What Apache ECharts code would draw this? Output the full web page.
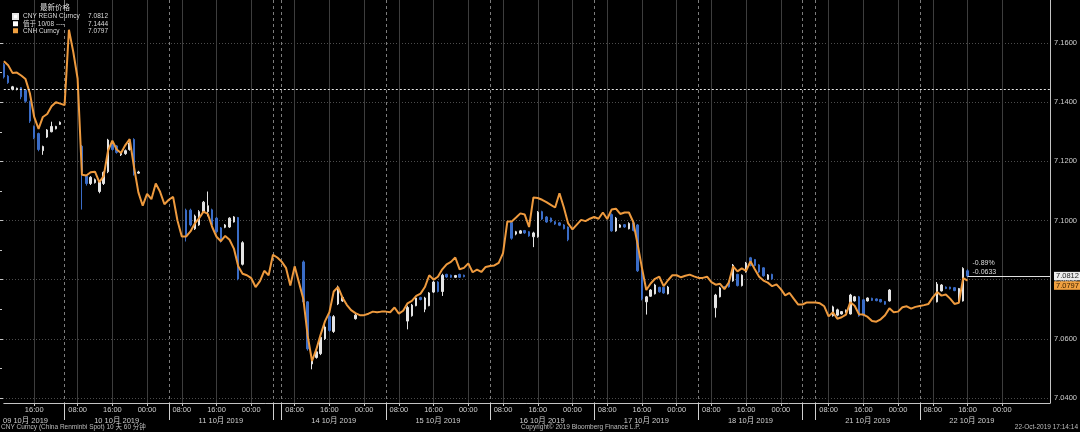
<!DOCTYPE html>
<html><head><meta charset="utf-8">
<script src="https://cdn.jsdelivr.net/npm/echarts@6/dist/echarts.min.js"></script>
<style>html,body{margin:0;padding:0;background:#000;}#c{width:1080px;height:432px;}</style>
</head><body><div id="c"></div>
<script>
// ---------------- DATA ----------------
// trading sessions shown on the x axis (hourly slots)
const sessions = [
  {day:'2019-10-09', from:9, hours:14, label:'09 10月 2019', labelAt:5},
  {day:'2019-10-10', from:5, hours:24, label:'10 10月 2019', labelAt:12},
  {day:'2019-10-11', from:5, hours:24, label:'11 10月 2019', labelAt:12},
  {day:'2019-10-12', from:5, hours:2,  label:'', labelAt:-1},
  {day:'2019-10-14', from:5, hours:24, label:'14 10月 2019', labelAt:12},
  {day:'2019-10-15', from:5, hours:24, label:'15 10月 2019', labelAt:12},
  {day:'2019-10-16', from:5, hours:24, label:'16 10月 2019', labelAt:12},
  {day:'2019-10-17', from:5, hours:24, label:'17 10月 2019', labelAt:12},
  {day:'2019-10-18', from:5, hours:24, label:'18 10月 2019', labelAt:12},
  {day:'2019-10-19', from:5, hours:3,  label:'', labelAt:-1},
  {day:'2019-10-21', from:5, hours:24, label:'21 10月 2019', labelAt:12},
  {day:'2019-10-22', from:5, hours:24, label:'22 10月 2019', labelAt:12},
  {day:'2019-10-23', from:5, hours:7,  label:'', labelAt:-1, trailing:true}
];
const hourLabels = [8, 16, 0];
const yTicks = {min:7.04, max:7.16, step:0.02};

// CNH Curncy hourly values, per session
const cnh_1009 = [7.1538,7.1525,7.1499,7.1500,7.1490,7.1478,7.1430,7.1350,7.1310,7.1350,7.1360,7.1386,7.1400,7.1395];
const cnh_1010 = [7.1390,7.1645,7.1570,7.1480,7.1155,7.1152,7.1163,7.1165,7.1130,7.1150,7.1235,7.1270,7.1240,7.1228,7.1255,7.1275,7.1180,7.1095,7.1050,7.1090,7.1072,7.1125,7.1097,7.1055];
const cnh_1011 = [7.1070,7.1080,7.1000,7.0946,7.0946,7.0963,7.0990,7.1008,7.1030,7.1022,7.0978,7.0945,7.0930,7.0948,7.0935,7.0905,7.0845,7.0820,7.0815,7.0805,7.0775,7.0795,7.0830,7.0815];
const cnh_1012 = [7.0884,7.0875];
const cnh_1014 = [7.0861,7.0840,7.0780,7.0845,7.0790,7.0735,7.0610,7.0525,7.0565,7.0615,7.0660,7.0690,7.0760,7.0775,7.0740,7.0715,7.0697,7.0687,7.0680,7.0680,7.0685,7.0692,7.0690,7.0692];
const cnh_1015 = [7.0692,7.0690,7.0706,7.0685,7.0695,7.0720,7.0728,7.0745,7.0753,7.0775,7.0815,7.0800,7.0810,7.0835,7.0852,7.0860,7.0875,7.0835,7.0840,7.0855,7.0825,7.0834,7.0826,7.0843];
const cnh_1016 = [7.0846,7.0848,7.0857,7.0890,7.0997,7.0997,7.1010,7.1024,7.1020,7.0978,7.1078,7.1076,7.1070,7.1062,7.1053,7.1044,7.1092,7.1045,7.0990,7.0970,7.0986,7.1002,7.0998,7.1006];
const cnh_1017 = [7.1012,7.1006,7.1027,7.1005,7.1037,7.1040,7.1022,7.1027,7.1027,7.0995,7.0920,7.0840,7.0765,7.0787,7.0803,7.0810,7.0778,7.0798,7.0815,7.0815,7.0808,7.0813,7.0817,7.0811];
const cnh_1018 = [7.0806,7.0806,7.0810,7.0792,7.0783,7.0786,7.0768,7.0790,7.0845,7.0828,7.0838,7.0830,7.0862,7.0835,7.0810,7.0797,7.0790,7.0778,7.0784,7.0768,7.0747,7.0755,7.0735,7.0716];
const cnh_1019 = [7.0716,7.0723,7.0723];
const cnh_1021 = [7.0723,7.0720,7.0710,7.0676,7.0690,7.0668,7.0673,7.0682,7.0724,7.0712,7.0683,7.0682,7.0674,7.0660,7.0658,7.0666,7.0680,7.0703,7.0690,7.0692,7.0707,7.0710,7.0702,7.0708];
const cnh_1022 = [7.0711,7.0714,7.0718,7.0740,7.0758,7.0746,7.0750,7.0736,7.0718,7.0722,7.0805,7.0797];
const cnh_1023 = [];

// CNY REGN Curncy hourly bars: [hour, open, close, low, high]
const cny_1009 = [[9,7.1527,7.1485,7.1480,7.1532],[10,7.1488,7.1466,7.1462,7.1492],[11,7.1444,7.1452,7.1440,7.1455],[12,7.1443,7.1447,7.1440,7.1449],[13,7.1449,7.1418,7.1410,7.1451],[14,7.1440,7.1403,7.1398,7.1442],[15,7.1402,7.1336,7.1330,7.1405],[16,7.1318,7.1280,7.1275,7.1321],[17,7.1294,7.1240,7.1234,7.1297],[18,7.1236,7.1250,7.1222,7.1253],[19,7.1282,7.1306,7.1279,7.1309],[20,7.1300,7.1318,7.1298,7.1334],[21,7.1310,7.1318,7.1308,7.1320],[22,7.1325,7.1332,7.1323,7.1335]];
const cny_1010 = [[9,7.1251,7.1165,7.1037,7.1255],[10,7.1150,7.1125,7.1118,7.1153],[11,7.1125,7.1146,7.1120,7.1150],[12,7.1128,7.1138,7.1125,7.1142],[13,7.1098,7.1130,7.1092,7.1135],[14,7.1125,7.1163,7.1120,7.1166],[15,7.1165,7.1272,7.1160,7.1276],[16,7.1262,7.1240,7.1236,7.1266],[17,7.1252,7.1230,7.1226,7.1255],[18,7.1222,7.1228,7.1218,7.1232],[19,7.1226,7.1236,7.1222,7.1240],[20,7.1240,7.1262,7.1236,7.1275],[21,7.1274,7.1158,7.1152,7.1278],[22,7.1160,7.1164,7.1158,7.1168]];
const cny_1011 = [[9,7.1035,7.0950,7.0929,7.1040],[10,7.1035,7.0985,7.0980,7.1040],[11,7.0972,7.1015,7.0968,7.1020],[12,7.0985,7.1030,7.0982,7.1035],[13,7.1030,7.1062,7.1028,7.1066],[14,7.1030,7.1050,7.1014,7.1098],[15,7.1036,7.0985,7.0980,7.1040],[16,7.1008,7.0962,7.0958,7.1012],[17,7.0975,7.0930,7.0925,7.0978],[18,7.0977,7.0985,7.0974,7.0988],[19,7.0978,7.1008,7.0975,7.1011],[20,7.0995,7.1012,7.0993,7.1015],[21,7.1010,7.0802,7.0798,7.1012],[22,7.0852,7.0925,7.0848,7.0930]];
const cny_1014 = [[10,7.0860,7.0725,7.0720,7.0865],[11,7.0725,7.0566,7.0560,7.0728],[12,7.0515,7.0535,7.0497,7.0540],[13,7.0537,7.0556,7.0533,7.0560],[14,7.0550,7.0605,7.0545,7.0610],[15,7.0600,7.0640,7.0596,7.0650],[16,7.0676,7.0628,7.0624,7.0680],[17,7.0625,7.0675,7.0620,7.0680],[18,7.0718,7.0775,7.0714,7.0780],[19,7.0728,7.0740,7.0725,7.0745],[22,7.0668,7.0680,7.0665,7.0684]];
const cny_1015 = [[10,7.0660,7.0706,7.0632,7.0712],[11,7.0678,7.0714,7.0675,7.0718],[12,7.0712,7.0738,7.0710,7.0742],[13,7.0740,7.0733,7.0730,7.0742],[14,7.0700,7.0738,7.0690,7.0742],[15,7.0712,7.0755,7.0710,7.0758],[16,7.0758,7.0792,7.0755,7.0796],[17,7.0792,7.0760,7.0757,7.0795],[18,7.0760,7.0815,7.0745,7.0820],[19,7.0818,7.0809,7.0806,7.0820],[20,7.0815,7.0808,7.0806,7.0817],[21,7.0808,7.0814,7.0806,7.0816],[22,7.0818,7.0808,7.0806,7.0820],[23,7.0815,7.0810,7.0808,7.0817]];
const cny_1016 = [[10,7.0993,7.0940,7.0935,7.0997],[11,7.0954,7.0962,7.0950,7.0965],[12,7.0957,7.0965,7.0955,7.0968],[13,7.0966,7.0958,7.0955,7.0968],[14,7.0962,7.0948,7.0945,7.0964],[15,7.0945,7.0958,7.0910,7.0962],[16,7.0945,7.1028,7.0942,7.1032],[17,7.1030,7.1005,7.1002,7.1033],[18,7.1012,7.0995,7.0992,7.1015],[19,7.1008,7.0996,7.0993,7.1010],[20,7.0996,7.0988,7.0985,7.0998],[21,7.0992,7.0984,7.0981,7.0994],[22,7.0985,7.0972,7.0970,7.0988],[23,7.0978,7.0935,7.0930,7.0980]];
const cny_1017 = [[9,7.1020,7.0965,7.0962,7.1024],[10,7.0965,7.1008,7.0962,7.1012],[11,7.0977,7.0985,7.0975,7.0988],[12,7.0986,7.0978,7.0975,7.0988],[13,7.0972,7.0990,7.0970,7.0994],[14,7.0992,7.0966,7.0963,7.0995],[15,7.0985,7.0830,7.0826,7.0988],[16,7.0832,7.0735,7.0730,7.0835],[17,7.0725,7.0742,7.0682,7.0745],[18,7.0744,7.0765,7.0742,7.0768],[19,7.0752,7.0782,7.0750,7.0786],[20,7.0774,7.0759,7.0756,7.0776],[21,7.0774,7.0755,7.0752,7.0776],[22,7.0752,7.0775,7.0750,7.0779]];
const cny_1018 = [[9,7.0705,7.0748,7.0672,7.0752],[10,7.0742,7.0772,7.0740,7.0776],[11,7.0776,7.0770,7.0768,7.0778],[12,7.0794,7.0776,7.0773,7.0796],[13,7.0796,7.0849,7.0793,7.0853],[14,7.0818,7.0780,7.0777,7.0820],[15,7.0780,7.0815,7.0777,7.0818],[16,7.0826,7.0856,7.0824,7.0860],[17,7.0874,7.0848,7.0845,7.0877],[18,7.0868,7.0848,7.0845,7.0870],[19,7.0850,7.0826,7.0823,7.0853],[20,7.0840,7.0813,7.0810,7.0842],[21,7.0801,7.0816,7.0799,7.0819],[22,7.0818,7.0802,7.0800,7.0820]];
const cny_1021 = [[9,7.0678,7.0708,7.0675,7.0712],[10,7.0680,7.0698,7.0676,7.0702],[11,7.0684,7.0692,7.0682,7.0694],[12,7.0690,7.0697,7.0688,7.0699],[13,7.0684,7.0748,7.0682,7.0752],[14,7.0728,7.0742,7.0726,7.0745],[15,7.0742,7.0678,7.0675,7.0745],[16,7.0732,7.0680,7.0676,7.0735],[17,7.0728,7.0738,7.0726,7.0740],[18,7.0737,7.0730,7.0728,7.0739],[19,7.0735,7.0729,7.0727,7.0737],[20,7.0733,7.0725,7.0723,7.0735],[21,7.0726,7.0717,7.0715,7.0728],[22,7.0728,7.0765,7.0726,7.0768]];
const cny_1022 = [[9,7.0725,7.0785,7.0723,7.0792],[10,7.0762,7.0782,7.0760,7.0785],[11,7.0775,7.0770,7.0768,7.0777],[12,7.0775,7.0769,7.0767,7.0776],[13,7.0773,7.0763,7.0761,7.0775],[14,7.0728,7.0770,7.0722,7.0772],[15,7.0728,7.0838,7.0726,7.0842],[16,7.0830,7.0812,7.0808,7.0835]];

const ref1008 = 7.1444;                       // 10/08 reference level
const legendNames = ['CNY REGN Curncy', '值于 10/08', 'CNH Curncy'];
const legendTexts = ['CNY REGN Curncy', '值于 10/08 ----', 'CNH Curncy'];
const legendValues = ['7.0812', '7.1444', '7.0797'];
const changeText = ['-0.89%', '-0.0633'];
const footerTexts = ['CNY Curncy (China Renminbi Spot) 10 天 60 分钟', 'Copyright© 2019 Bloomberg Finance L.P.', '22-Oct-2019 17:14:14'];

// ---------------- BUILD ----------------
const FONT = "'Liberation Sans','Noto Sans CJK SC',sans-serif";
const pad = n => (n < 10 ? '0' : '') + n;
const categories = [], slotHour = [], slotSession = [], sessionFirst = [];
sessions.forEach((s, si) => {
  const [Y, M, D] = s.day.split('-').map(Number);
  sessionFirst.push(categories.length);
  for (let k = 0; k < s.hours; k++) {
    const t = new Date(Date.UTC(Y, M - 1, D, s.from + k));
    categories.push(t.getUTCFullYear() + '-' + pad(t.getUTCMonth() + 1) + '-' + pad(t.getUTCDate()) + ' ' + pad(t.getUTCHours()) + ':00');
    slotHour.push(t.getUTCHours());
    slotSession.push(si);
  }
});
const N = categories.length;

const cnhSessions = [cnh_1009, cnh_1010, cnh_1011, cnh_1012, cnh_1014, cnh_1015, cnh_1016, cnh_1017, cnh_1018, cnh_1019, cnh_1021, cnh_1022, cnh_1023];
const cnhData = [];
sessions.forEach((s, si) => {
  for (let k = 0; k < s.hours; k++) {
    const v = cnhSessions[si][k];
    cnhData.push(v === undefined ? '-' : v);
  }
});
let cnhLastIdx = 0; cnhData.forEach((v, i) => { if (v !== '-') cnhLastIdx = i; });

const cnyDays = {'2019-10-09': cny_1009, '2019-10-10': cny_1010, '2019-10-11': cny_1011, '2019-10-14': cny_1014, '2019-10-15': cny_1015, '2019-10-16': cny_1016, '2019-10-17': cny_1017, '2019-10-18': cny_1018, '2019-10-21': cny_1021, '2019-10-22': cny_1022};
const cnyData = categories.map(() => ['-', '-', '-', '-']);
let cnyLastIdx = 0;
Object.keys(cnyDays).forEach(day => {
  cnyDays[day].forEach(b => {
    const i = categories.indexOf(day + ' ' + pad(b[0]) + ':00');
    if (i >= 0) { cnyData[i] = [b[1], b[2], b[3], b[4]]; if (i > cnyLastIdx) cnyLastIdx = i; }
  });
});
const cnyLast = cnyData[cnyLastIdx][1];
const cnhLast = cnhData[cnhLastIdx];

const isHourSlot = i => { const s = sessions[slotSession[i]]; return !!s.label && hourLabels.indexOf(slotHour[i]) >= 0; };
const isDateSlot = i => { const si = slotSession[i]; const s = sessions[si]; return s.labelAt >= 0 && i === sessionFirst[si] + s.labelAt; };
const isSepSlot = i => { const si = slotSession[i]; return si > 0 && !sessions[si].trailing && i === sessionFirst[si]; };

// y range of full plot (grid 0): 7.16 at y=43, 7.04 at y=398, plot from 0 to 403
const pxPerUnit = 355 / (yTicks.max - yTicks.min);
const yFullMax = yTicks.max + 43 / pxPerUnit;
const yFullMin = yTicks.min - 5 / pxPerUnit;

const AXC = '#c4c4c4';
const option = {
  backgroundColor: '#000',
  animation: false,
  title: [
    {text: '最新价格', left: 40, top: 4, padding: 0, textStyle: {color: '#dcdcdc', fontSize: 7.5, fontWeight: 'normal', fontFamily: FONT}},
    {text: footerTexts[0], left: 1, top: 424, padding: 0, textStyle: {color: '#bdbdbd', fontSize: 6.5, fontWeight: 'normal', fontFamily: FONT}},
    {text: footerTexts[1], left: 521, top: 424, padding: 0, textStyle: {color: '#bdbdbd', fontSize: 6.5, fontWeight: 'normal', fontFamily: FONT}},
    {text: footerTexts[2], right: 2, top: 424, padding: 0, textStyle: {color: '#bdbdbd', fontSize: 6.5, fontWeight: 'normal', fontFamily: FONT}}
  ],
  legend: {
    orient: 'vertical', left: 12, top: 13, itemWidth: 5, itemHeight: 5, itemGap: 0.5, icon: 'rect',
    selectedMode: false, padding: 0,
    formatter: name => { const k = legendNames.indexOf(name); return '{n|' + legendTexts[k] + '}{v|' + legendValues[k] + '}'; },
    textStyle: {color: '#dcdcdc', fontSize: 6.5, fontFamily: FONT,
      rich: {n: {width: 61, fontSize: 6.5, lineHeight: 9, color: '#dcdcdc', fontFamily: FONT},
             v: {width: 24, align: 'right', fontSize: 6.5, lineHeight: 9, color: '#dcdcdc', fontFamily: FONT}}},
    data: [
      {name: legendNames[0], itemStyle: {color: '#ffffff'}},
      {name: legendNames[1], itemStyle: {color: '#ffffff'}},
      {name: legendNames[2], itemStyle: {color: '#f0a040'}}
    ]
  },
  grid: [
    {left: 0, right: 30, top: 0, bottom: 29},
    {left: 0, right: 30, top: 43, bottom: 34}
  ],
  xAxis: [
    {type: 'category', gridIndex: 0, data: categories, boundaryGap: false, position: 'bottom',
      axisLine: {show: true, lineStyle: {color: AXC, width: 1}},
      axisTick: {show: true, interval: isHourSlot, length: 3, lineStyle: {color: AXC}},
      axisLabel: {interval: isHourSlot, formatter: (v, i) => isHourSlot(i) ? pad(slotHour[i]) + ':00' : '',
        color: '#cfcfcf', fontSize: 7.5, margin: 3, fontFamily: FONT},
      splitLine: {show: true, interval: isHourSlot, lineStyle: {color: '#3d3d3d', width: 1}}},
    {type: 'category', gridIndex: 0, data: categories, boundaryGap: false, position: 'bottom', offset: 11,
      axisLine: {show: false}, axisTick: {show: false}, splitLine: {show: false},
      axisLabel: {interval: isDateSlot, formatter: (v, i) => isDateSlot(i) ? sessions[slotSession[i]].label : '',
        color: '#cfcfcf', fontSize: 7.5, margin: 3, fontFamily: FONT}},
    {type: 'category', gridIndex: 0, data: categories, boundaryGap: false, position: 'bottom',
      axisLine: {show: false}, axisLabel: {show: false},
      axisTick: {show: true, interval: isSepSlot, length: 17, lineStyle: {color: '#d0d0d0'}},
      splitLine: {show: true, interval: isSepSlot, lineStyle: {color: '#7c7c7c', type: [3, 3], width: 1}}},
    {type: 'value', gridIndex: 1, min: 0, max: 1, show: false}
  ],
  yAxis: [
    {type: 'value', gridIndex: 0, position: 'right', min: yFullMin, max: yFullMax,
      axisLine: {show: true, lineStyle: {color: AXC}}, axisTick: {show: false}, axisLabel: {show: false}, splitLine: {show: false}},
    {type: 'value', gridIndex: 1, position: 'right', min: yTicks.min, max: yTicks.max, interval: yTicks.step,
      axisLine: {show: false},
      axisTick: {show: true, length: 3, lineStyle: {color: AXC}},
      minorTick: {show: true, splitNumber: 2, length: 2, lineStyle: {color: AXC}},
      axisLabel: {formatter: v => v.toFixed(4), color: '#cfcfcf', fontSize: 7.5, margin: 5, fontFamily: FONT},
      splitLine: {show: true, lineStyle: {color: '#4c4c4c', type: [1, 2], width: 1}}}
  ],
  series: [
    {name: legendNames[1], type: 'line', xAxisIndex: 0, yAxisIndex: 0, data: [], z: 1,
      markLine: {silent: true, precision: 4, symbol: ['none', 'none'], label: {show: false},
        lineStyle: {color: '#e6e6e6', type: [2, 2], width: 1}, data: [{yAxis: ref1008}]},
      markPoint: {symbol: 'rect', symbolSize: 0, silent: true,
        data: [{coord: [categories[N - 1], cnhLast]}],
        label: {show: true, position: 'right', distance: 4, offset: [0, 5], formatter: legendValues[2],
          backgroundColor: '#f0a040', color: '#3a2000', padding: [1, 2, 0, 2], fontSize: 7.5, fontFamily: FONT}}},
    {name: legendNames[0], type: 'candlestick', xAxisIndex: 0, yAxisIndex: 0, data: cnyData, z: 2,
      barWidth: 2,
      itemStyle: {color: '#e4e4e4', color0: '#3a6cc6', borderColor: '#e4e4e4', borderColor0: '#3a6cc6', borderWidth: 1},
      markLine: {silent: true, precision: 4, symbol: ['none', 'none'],
        lineStyle: {color: '#e0e0e0', type: 'solid', width: 1},
        label: {show: true, position: 'end', distance: 4, formatter: legendValues[0],
          backgroundColor: '#ececec', color: '#222', padding: [1, 2, 0, 2], fontSize: 7.5, fontFamily: FONT},
        data: [[{coord: [categories[cnyLastIdx], cnyLast]}, {coord: [categories[N - 1], cnyLast]}]]},
      markPoint: {symbol: 'rect', symbolSize: 0, silent: true,
        data: [{coord: [categories[cnyLastIdx], cnyLast]}],
        label: {show: true, position: 'right', distance: 5, offset: [0, -9], align: 'left',
          formatter: changeText.join('\n'), color: '#dcdcdc', fontSize: 7, lineHeight: 9, fontFamily: FONT}}},
    {name: legendNames[2], type: 'line', xAxisIndex: 0, yAxisIndex: 0, data: cnhData, z: 3,
      symbol: 'none', connectNulls: false,
      lineStyle: {color: '#ee9a3e', width: 2}}
  ]
};
const chart = echarts.init(document.getElementById('c'), null, {renderer: 'canvas'});
chart.setOption(option);
</script></body></html>
